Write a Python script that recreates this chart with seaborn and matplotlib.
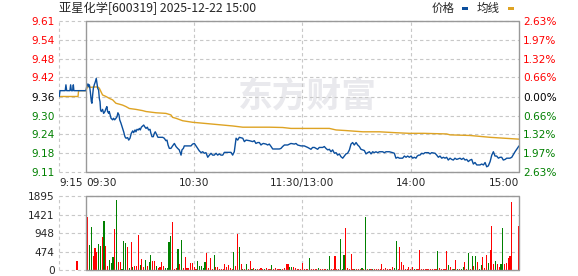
import matplotlib
matplotlib.use("Agg")
import matplotlib.pyplot as plt
import matplotlib.patches as mpatches
import numpy as np
import pandas as pd
import seaborn as sns

sns.set_style("white")
plt.rcParams['font.family'] = ['DejaVu Sans']
CJK = ['Noto Sans CJK SC', 'DejaVu Sans']

# ---------------- text / ticks ----------------
title = "亚星化学[600319] 2025-12-22 15:00"
legend_names = ["价格", "均线"]
watermark = "东方财富"

price_ticks = [9.606, 9.545, 9.483, 9.422, 9.36, 9.298, 9.237, 9.175, 9.114]
price_labels = ["9.61", "9.54", "9.48", "9.42", "9.36", "9.30", "9.24", "9.18", "9.11"]
pct_labels = ["2.63%", "1.97%", "1.32%", "0.66%", "0.00%", "0.66%", "1.32%", "1.97%", "2.63%"]
label_sign = [1, 1, 1, 1, 0, -1, -1, -1, -1]

time_ticks = [-15, 0, 60, 120, 180, 240]
time_labels = ["9:15", "09:30", "10:30", "11:30/13:00", "14:00", "15:00"]
time_align = ["left", "left", "center", "center", "center", "right"]

vol_ticks = [0, 474, 948, 1421, 1895]
vol_labels = ["0", "474", "948", "1421", "1895"]

# ---------------- price line (minutes from 09:30) ----------------
price_t = [
    -14.8, -14.4, -11.5, -11.1, -10.7, -8.9, -8.5, -8.1, -7.4, -7.0, -6.7,
    0.0, 0.6, 1.1, 1.5, 1.9, 2.4, 3.0, 3.3, 3.7, 4.1,
    4.6, 5.2, 5.7, 6.1, 6.5, 7.0, 7.4, 7.8, 8.1, 8.5,
    9.2, 9.8, 10.5, 11.1, 11.6, 12.0, 12.6, 12.9, 13.9, 14.8,
    15.3, 15.9, 16.6, 17.2, 17.7, 18.3, 18.7, 19.4, 20.3, 20.9,
    21.6, 22.2, 23.1, 23.7, 24.4, 25.1, 25.9, 26.4, 27.2, 27.7,
    28.3, 29.0, 29.6, 30.1, 30.7, 31.4, 32.0, 32.5, 33.3, 34.0,
    34.7, 35.5, 36.0, 36.6, 37.3, 37.9, 38.4, 39.2, 39.9, 42.5,
    43.4, 44.3, 44.9, 45.5, 46.2, 47.1, 48.0, 49.0,
    49.9, 50.8, 51.7, 52.7, 53.2, 54.0, 54.5, 58.2, 59.1, 60.1,
    61.0, 61.9, 62.8, 63.8, 64.7, 65.6, 66.5, 67.5, 68.4, 69.3,
    70.2, 71.1, 72.1, 73.0, 73.9, 74.8, 75.8, 76.7, 80.4, 81.3,
    82.2, 83.2, 84.1, 85.0, 86.9, 87.8, 88.7, 90.6, 92.4, 93.3,
    94.2, 95.2, 96.1, 97.0, 97.6, 98.3, 99.8, 100.7, 101.6, 102.6,
    103.5, 107.2, 108.1, 109.0, 110.0, 111.8, 113.6, 115.5,
    116.4, 117.3, 119.2, 121.0, 122.9, 124.7, 125.6, 126.6, 127.5, 128.4,
    129.3, 131.2, 132.1, 133.0, 134.0, 134.9, 135.8, 136.7, 137.7, 138.6,
    139.5, 140.4, 141.3, 142.3, 143.2, 144.1, 145.0, 146.0, 146.9, 147.8,
    148.7, 149.7, 150.6, 151.5, 152.4, 153.4, 154.3, 155.2, 156.1, 157.1,
    158.0, 158.9, 159.8, 160.7, 161.7, 162.6, 164.4, 165.4, 166.3, 168.1,
    170.0, 170.9, 171.8, 172.8, 173.7, 175.5, 176.5, 177.4, 178.3, 179.2,
    180.2, 181.1, 182.0, 182.9,
    183.6, 184.4, 185.1, 186.1, 187.0, 187.9, 189.8, 190.7, 191.6, 193.5,
    194.4, 195.3, 196.2, 197.2, 198.1, 199.0, 199.9, 200.8, 201.8, 202.7,
    203.6, 204.5, 205.5, 207.3, 208.2, 209.2, 210.1, 211.0, 211.9, 212.9,
    213.8, 214.7, 215.6, 216.6, 218.4, 219.3, 220.3, 221.2, 222.1, 223.0,
    224.0, 224.9, 225.8, 226.7, 227.6, 228.6, 229.5, 230.4, 231.3, 232.3,
    233.2, 235.0, 236.0, 237.8, 238.7, 240.0,
]
price_v = [
    9.360, 9.379, 9.379, 9.398, 9.379, 9.379, 9.398, 9.379, 9.379, 9.398, 9.379,
    9.379, 9.398, 9.401, 9.392, 9.398, 9.376, 9.343, 9.338, 9.365, 9.387,
    9.398, 9.408, 9.419, 9.403, 9.387, 9.381, 9.354, 9.343, 9.316, 9.311,
    9.318, 9.305, 9.311, 9.321, 9.327, 9.311, 9.305, 9.311, 9.289, 9.284,
    9.289, 9.284, 9.289, 9.294, 9.307, 9.300, 9.284, 9.273, 9.256, 9.245,
    9.229, 9.224, 9.226, 9.218, 9.224, 9.240, 9.248, 9.242, 9.251, 9.245,
    9.253, 9.251, 9.256, 9.251, 9.260, 9.264, 9.267, 9.262, 9.256, 9.260,
    9.251, 9.253, 9.240, 9.229, 9.229, 9.240, 9.245, 9.235, 9.227, 9.227,
    9.224, 9.216, 9.218, 9.202, 9.191, 9.191, 9.199, 9.207,
    9.197, 9.191, 9.186, 9.169, 9.186, 9.191, 9.199, 9.199, 9.205, 9.207,
    9.199, 9.191, 9.183, 9.177, 9.180, 9.175, 9.177, 9.162, 9.169, 9.175,
    9.169, 9.169, 9.175, 9.169, 9.173, 9.169, 9.169, 9.178, 9.178, 9.169,
    9.180, 9.224, 9.218, 9.227, 9.224, 9.213, 9.218, 9.216, 9.213, 9.216,
    9.207, 9.210, 9.210, 9.202, 9.205, 9.207, 9.205, 9.202, 9.205, 9.197,
    9.189, 9.189, 9.191, 9.197, 9.202, 9.202, 9.207, 9.205,
    9.207, 9.202, 9.199, 9.199, 9.194, 9.188, 9.194, 9.194, 9.191, 9.188,
    9.194, 9.194, 9.197, 9.191, 9.186, 9.188, 9.180, 9.186, 9.175, 9.177,
    9.169, 9.173, 9.164, 9.159, 9.166, 9.173, 9.175, 9.186, 9.205, 9.210,
    9.202, 9.210, 9.202, 9.197, 9.188, 9.186, 9.184, 9.173, 9.177, 9.180,
    9.173, 9.180, 9.177, 9.180, 9.177, 9.180, 9.180, 9.177, 9.180, 9.180,
    9.177, 9.175, 9.159, 9.162, 9.159, 9.159, 9.166, 9.162, 9.166, 9.162,
    9.166, 9.159, 9.162, 9.159,
    9.166, 9.169, 9.169, 9.175, 9.173, 9.177, 9.177, 9.173, 9.177, 9.175,
    9.169, 9.162, 9.166, 9.159, 9.162, 9.159, 9.162, 9.153, 9.159, 9.155,
    9.153, 9.159, 9.155, 9.159, 9.155, 9.159, 9.153, 9.155, 9.148, 9.153,
    9.155, 9.140, 9.145, 9.137, 9.137, 9.140, 9.137, 9.145, 9.131, 9.134,
    9.148, 9.169, 9.180, 9.166, 9.166, 9.159, 9.162, 9.162, 9.153, 9.155,
    9.159, 9.159, 9.162, 9.180, 9.188, 9.199,
]

# ---------------- average price line ----------------
avg_t = [
    -14.8, -4.4, -4.1,
    0.0, 0.9, 1.9, 2.8, 4.6, 6.5, 7.4, 8.3, 9.2, 11.1,
    12.9, 14.8, 16.6, 18.5, 20.3, 22.2, 24.0, 27.7, 31.4, 33.3,
    38.8, 44.3, 47.1, 48.0, 49.9, 53.6, 59.1, 64.7, 72.1, 81.3,
    86.9, 101.6, 109.0, 113.6, 125.6, 134.9, 138.6, 144.1, 153.4, 162.6,
    171.8, 179.2, 187.0, 199.9, 201.8, 212.9, 224.0, 240.0,
]
avg_v = [
    9.360, 9.360, 9.379,
    9.379, 9.393, 9.391, 9.390, 9.391, 9.391, 9.387, 9.376, 9.365, 9.360,
    9.354, 9.349, 9.338, 9.335, 9.332, 9.327, 9.321, 9.318, 9.314, 9.311,
    9.307, 9.305, 9.300, 9.292, 9.289, 9.281, 9.276, 9.273, 9.269, 9.264,
    9.260, 9.260, 9.259, 9.256, 9.256, 9.256, 9.251, 9.249, 9.245, 9.245,
    9.242, 9.240, 9.240, 9.238, 9.235, 9.233, 9.227, 9.221,
]

# ---------------- volume bars ----------------
vol_minutes = [-5] + list(range(1, 237)) + [240]
vol_values = [
    237,
    1368, 631, 1105, 368, 561, 456, 675, 605, 842, 1263,
    605, 105, 263, 184, 342, 1052, 1789, 202, 202, 35,
    737, 693, 579, 61, 710, 79, 96, 105, 895, 140,
    289, 88, 263, 105, 210, 386, 237, 237, 114, 61,
    70, 210, 105, 61, 61, 710, 877, 1237, 35, 61,
    544, 149, 763, 61, 342, 61, 44, 175, 175, 70,
    35, 237, 105, 105, 61, 202, 447, 53, 316, 35,
    386, 79, 79, 35, 35, 35, 149, 79, 123, 61,
    35, 465, 105, 938, 579, 149, 35, 35, 149, 35,
    237, 35, 44, 26, 35, 18, 53, 26, 35, 44,
    26, 35, 140, 26, 44, 35, 18, 26, 35, 44,
    158, 158, 79, 79, 79, 61, 18, 18, 26, 184,
    26, 26, 26, 316, 26, 26, 26, 26, 53, 26,
    26, 26, 26, 26, 368, 26, 26, 368, 26, 26,
    789, 26, 395, 1079, 53, 26, 421, 26, 26, 26,
    26, 26, 53, 26, 1368, 26, 26, 26, 26, 26,
    26, 26, 26, 158, 26, 53, 26, 26, 26, 70,
    53, 737, 26, 579, 210, 132, 26, 26, 70, 26,
    79, 26, 26, 26, 526, 26, 26, 18, 26, 26,
    26, 26, 26, 26, 500, 53, 26, 26, 26, 500,
    123, 79, 26, 26, 263, 26, 26, 26, 79, 210,
    26, 447, 26, 368, 105, 368, 210, 26, 132, 342,
    53, 395, 184, 526, 1131, 158, 237, 158, 79, 158,
    1079, 158, 184, 316, 368, 1745,
    1131,
]
vol_up = [
    1,
    1, 0, 0, 1, 1, 1, 0, 0, 1, 0,
    1, 1, 0, 0, 0, 1, 0, 1, 1, 0,
    0, 0, 1, 0, 1, 0, 1, 1, 1, 0,
    1, 1, 0, 1, 0, 0, 1, 1, 0, 1,
    1, 1, 1, 0, 0, 0, 0, 1, 1, 1,
    0, 1, 0, 1, 1, 1, 1, 1, 1, 1,
    1, 0, 0, 0, 0, 0, 1, 1, 1, 1,
    0, 1, 1, 1, 1, 1, 1, 1, 1, 1,
    1, 0, 1, 1, 0, 1, 0, 1, 0, 1,
    1, 0, 1, 0, 1, 1, 1, 1, 0, 1,
    1, 1, 0, 1, 1, 1, 1, 0, 1, 1,
    1, 1, 0, 0, 1, 1, 1, 1, 1, 1,
    1, 1, 1, 0, 1, 1, 1, 1, 0, 1,
    1, 1, 1, 0, 0, 1, 1, 1, 1, 1,
    0, 0, 0, 1, 1, 1, 1, 1, 0, 1,
    1, 1, 0, 1, 0, 1, 0, 1, 0, 1,
    1, 1, 1, 1, 1, 1, 1, 1, 1, 1,
    0, 0, 1, 1, 1, 1, 1, 1, 1, 1,
    1, 0, 1, 1, 1, 1, 1, 1, 1, 1,
    1, 1, 1, 1, 0, 1, 1, 1, 1, 1,
    0, 1, 1, 0, 1, 0, 1, 0, 0, 1,
    1, 0, 1, 0, 1, 0, 1, 0, 0, 1,
    1, 1, 0, 1, 1, 1, 0, 1, 1, 0,
    0, 1, 1, 1, 1, 1,
    1,
]

# ---------------- styles ----------------
BLUE = "#0b4f9e"
ORANGE = "#dea323"
RED = "#ff0000"
GREEN = "#008000"
GRID = "#c8c8c8"
FRAME = "#999999"
FS = 7.6

price_df = pd.DataFrame({"t": price_t, "p": price_v})
avg_df = pd.DataFrame({"t": avg_t, "p": avg_v})
vol_df = pd.DataFrame({"t": vol_minutes, "v": vol_values, "up": vol_up})

W, H = 578, 276
fig = plt.figure(figsize=(W / 100, H / 100), dpi=100)
left_px, right_px = 58.9, 519
ax = fig.add_axes([left_px / W, 1 - 172 / H, (right_px - left_px) / W, 151 / H])
axv = fig.add_axes([left_px / W, 1 - 270 / H, (right_px - left_px) / W, 73.7 / H])

sign_color = {1: RED, 0: "black", -1: GREEN}


def frame(a, ylo, yhi):
    a.set_xlim(-15, 240)
    a.set_ylim(ylo, yhi)
    for s in a.spines.values():
        s.set_visible(False)
    a.axvline(-15, color=GRID, lw=0.8, ls=(0, (3, 2.5)), clip_on=False, zorder=1)
    for xv in [60, 120, 180]:
        a.axvline(xv, color=GRID, lw=0.8, ls=(0, (3, 2.5)), zorder=1)
    a.axvline(0, color=FRAME, lw=1.0, zorder=4, clip_on=False)
    a.axvline(240, color=FRAME, lw=1.0, zorder=4, clip_on=False)
    a.hlines([ylo, yhi], 0, 240, color=FRAME, lw=1.0, zorder=4, clip_on=False)


# ---- price panel ----
frame(ax, price_ticks[-1], price_ticks[0])
for yv in price_ticks:
    ax.axhline(yv, color=GRID, lw=0.8, ls=(0, (3, 2.5)), zorder=1, clip_on=False)

ax.text(0.54, 0.50, watermark, transform=ax.transAxes, ha="center", va="center",
        fontsize=25, fontweight="bold", color="#e9e9ed", family=CJK, zorder=0.5)

sns.lineplot(data=avg_df, x="t", y="p", ax=ax, color=ORANGE, lw=1.0,
             estimator=None, sort=False, zorder=2)
sns.lineplot(data=price_df, x="t", y="p", ax=ax, color=BLUE, lw=1.0,
             estimator=None, sort=False, zorder=3)
ax.set_xlabel("")
ax.set_ylabel("")

ax.set_yticks(price_ticks)
ax.set_yticklabels(price_labels, fontsize=FS)
for lab, sg in zip(ax.get_yticklabels(), label_sign):
    lab.set_color(sign_color[sg])
ax.tick_params(axis="y", length=0, pad=3)

ax.set_xticks(time_ticks)
ax.set_xticklabels(time_labels, fontsize=FS)
for lab, ha in zip(ax.get_xticklabels(), time_align):
    lab.set_ha(ha)
ax.tick_params(axis="x", length=0, pad=4)

ax2 = ax.twinx()
ax2.set_ylim(ax.get_ylim())
for s in ax2.spines.values():
    s.set_visible(False)
ax2.set_yticks(price_ticks)
ax2.set_yticklabels(pct_labels, fontsize=FS)
for lab, sg in zip(ax2.get_yticklabels(), label_sign):
    lab.set_color(sign_color[sg])
ax2.tick_params(axis="y", length=0, pad=3)

# ---- volume panel ----
frame(axv, vol_ticks[0], vol_ticks[-1])
for yv in vol_ticks:
    axv.axhline(yv, color=GRID, lw=0.8, ls=(0, (3, 2.5)), zorder=1, clip_on=False)
bar_colors = [RED if u else GREEN for u in vol_df["up"]]
axv.bar(vol_df["t"], vol_df["v"], width=0.62, color=bar_colors, linewidth=0, zorder=2)
axv.set_yticks(vol_ticks)
axv.set_yticklabels(vol_labels, fontsize=FS)
axv.tick_params(axis="y", length=0, pad=3)
axv.set_xticks([])

# ---- title and legend ----
fig.text(59 / W, 1 - 8.5 / H, title, fontsize=8.8, family=CJK, ha="left", va="center")
fig.text(432 / W, 1 - 8.5 / H, legend_names[0], fontsize=8.3, family=CJK, ha="left", va="center")
fig.add_artist(mpatches.Rectangle((462 / W, 1 - 10 / H), 6 / W, 3 / H,
                                  transform=fig.transFigure, color=BLUE, lw=0))
fig.text(477 / W, 1 - 8.5 / H, legend_names[1], fontsize=8.3, family=CJK, ha="left", va="center")
fig.add_artist(mpatches.Rectangle((508 / W, 1 - 10 / H), 6 / W, 3 / H,
                                  transform=fig.transFigure, color=ORANGE, lw=0))

fig.savefig("out.png", dpi=100, facecolor="white")
